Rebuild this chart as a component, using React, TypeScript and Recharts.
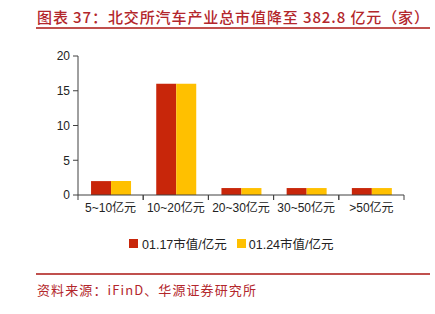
import React from "react";
import { BarChart, Bar, XAxis, YAxis } from "recharts";

const categories = ["5~10亿元", "10~20亿元", "20~30亿元", "30~50亿元", ">50亿元"];
const values0117 = [2, 16, 1, 1, 1];
const values0124 = [2, 16, 1, 1, 1];
const yTicks = [0, 5, 10, 15, 20];

const RED = "#C8260A";
const YELLOW = "#FFC000";
const LINE = "#C0504D";
const CJK = "'Liberation Sans', Arial, 'Noto Sans CJK SC', sans-serif";
const TITLE_FONT = "'Noto Sans CJK SC', sans-serif";

const data = categories.map((name, i) => ({
  name,
  a: values0117[i],
  b: values0124[i],
}));

function CategoryTick(props: any) {
  const { x, y, payload } = props;
  const half = payload && payload.offset ? payload.offset : 32.6;
  return (
    <g>
      <line x1={x - half} y1={y - 8} x2={x - half} y2={y - 3} stroke="#404040" />
      <line x1={x + half} y1={y - 8} x2={x + half} y2={y - 3} stroke="#404040" />
      <text x={x} y={y + 9} textAnchor="middle" fontSize={12} fill="#222" fontFamily={CJK}>
        {payload.value}
      </text>
    </g>
  );
}

export default function App() {
  return (
    <div style={{ position: "absolute", left: 0, top: 0, width: 435, height: 314, background: "#fff" }}>
      <div
        style={{
          position: "absolute",
          left: 37,
          top: 6,
          fontSize: 15,
          fontWeight: 500,
          color: "#B3262B",
          fontFamily: TITLE_FONT,
          whiteSpace: "nowrap",
          letterSpacing: 0.9,
        }}
      >
        图表 37：北交所汽车产业总市值降至 382.8 亿元（家）
      </div>
      <div style={{ position: "absolute", left: 36, top: 27, width: 394, height: 2, background: LINE }} />

      <div style={{ position: "absolute", left: 0, top: 0 }}>
        <BarChart
          width={435}
          height={260}
          data={data}
          margin={{ top: 56, right: 31, left: 38, bottom: 35 }}
          barCategoryGap="20%"
          barGap={0}
        >
          <XAxis
            dataKey="name"
            axisLine={{ stroke: "#404040" }}
            tickLine={false}
            tick={<CategoryTick />}
            height={30}
            interval={0}
          />
          <YAxis
            domain={[0, 20]}
            ticks={yTicks}
            width={40}
            axisLine={{ stroke: "#404040" }}
            tickLine={{ stroke: "#404040" }}
            tickSize={5}
            tickMargin={3}
            tick={{ fontSize: 12, fill: "#222", fontFamily: CJK }}
          />
          <Bar dataKey="a" fill={RED} isAnimationActive={false} />
          <Bar dataKey="b" fill={YELLOW} isAnimationActive={false} />
        </BarChart>
      </div>

      <div
        style={{
          position: "absolute",
          left: 129,
          top: 234,
          display: "flex",
          alignItems: "center",
          fontSize: 12.5,
          color: "#222",
          fontFamily: CJK,
          whiteSpace: "nowrap",
        }}
      >
        <span style={{ width: 9, height: 9, background: RED, marginRight: 4, display: "inline-block" }} />
        <span style={{ marginRight: 10 }}>01.17市值/亿元</span>
        <span style={{ width: 9, height: 9, background: YELLOW, marginRight: 3, display: "inline-block" }} />
        <span>01.24市值/亿元</span>
      </div>

      <div style={{ position: "absolute", left: 36, top: 273, width: 394, height: 2, background: LINE }} />
      <div
        style={{
          position: "absolute",
          left: 37,
          top: 280,
          fontSize: 13,
          color: "#B3262B",
          fontFamily: TITLE_FONT,
          whiteSpace: "nowrap",
          letterSpacing: 1.1,
        }}
      >
        资料来源：iFinD、华源证券研究所
      </div>
    </div>
  );
}
